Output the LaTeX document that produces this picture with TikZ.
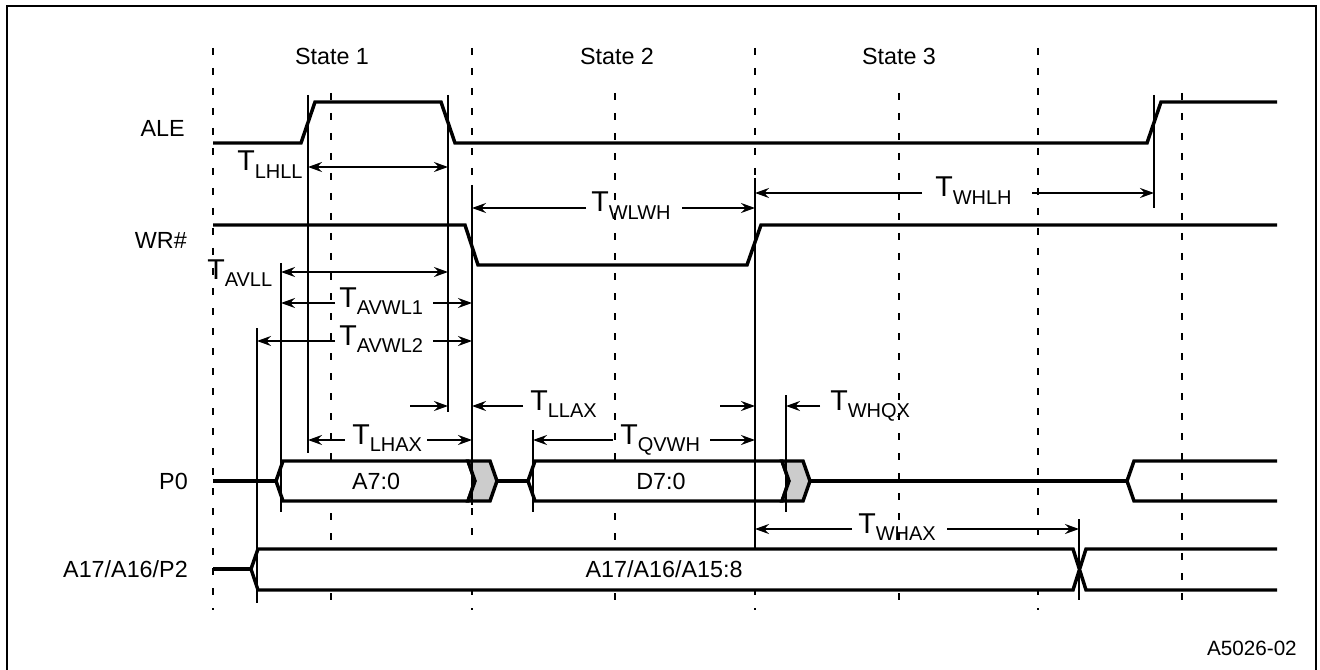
\documentclass[tikz,border=0pt]{standalone}
\usepackage{fontspec}
\setmainfont{Liberation Sans}
\usetikzlibrary{arrows.meta}
\newcommand\TimSym[1]{{\fontsize{21.5}{22}\selectfont T}\raisebox{-5.5pt}{\fontsize{15}{15}\selectfont #1}}
\begin{document}
\begin{tikzpicture}[x=0.75pt,y=-0.75pt,
  >={Stealth[length=10.5pt,width=7.5pt,inset=3.5pt]},
  frame/.style={line width=1.8pt},
  grid/.style={line width=1.3pt,dash pattern=on 5pt off 10pt},
  sig/.style={line width=2.6pt,line join=miter},
  bus/.style={line width=2.6pt,line join=miter,fill=white},
  hold/.style={line width=2.6pt,line join=miter,fill=black!20},
  tick/.style={line width=1.25pt},
  dim/.style={line width=1.25pt},
  lbl/.style={inner sep=0pt,anchor=base,font=\fontsize{17.5}{18}\selectfont},
  signame/.style={lbl,anchor=base east},
  tlab/.style={inner sep=0pt,anchor=base west},
]
\useasboundingbox (0,0) rectangle (1320,670);
% frame (open at the bottom)
\draw[frame] (7,690) -- (7,6) -- (1316,6) -- (1316,690);
% grid
\foreach \x in {213,472,755,1038} \draw[grid] (\x,48) -- (\x,610);
\foreach \x in {331,615,899,1182} \draw[grid] (\x,93) -- (\x,610);
% state labels
\node[lbl] (s1) at (332,65) {State 1};
\node[lbl] (s2) at (617,65) {State 2};
\node[lbl] (s3) at (899,65) {State 3};
% signal names
\node[signame] (ale) at (185,137) {ALE};
\node[signame] (wr) at (187,249) {WR\#};
\node[signame] (p0) at (188,489) {P0};
\node[signame] (a17) at (188,577) {A17/A16/P2};
% P0 bus
\draw[sig] (213,481) -- (276,481);
\draw[bus] (276,481) -- (283,461) -- (468,461) -- (475,481) -- (468,501) -- (283,501) -- cycle;
\draw[hold] (468,461) -- (490,461) -- (497,481) -- (490,501) -- (468,501) -- (475,481) -- cycle;
\draw[sig] (497,481) -- (528,481);
\draw[bus] (528,481) -- (535,461) -- (782,461) -- (789,481) -- (782,501) -- (535,501) -- cycle;
\draw[hold] (782,461) -- (803,461) -- (810,481) -- (803,501) -- (782,501) -- (789,481) -- cycle;
\draw[sig] (810,481) -- (1127,481);
\draw[sig] (1277,461) -- (1134,461) -- (1127,481) -- (1134,501) -- (1277,501);
% A17 bus
\draw[sig] (213,569) -- (252,569);
\fill[white] (251,569) -- (258,549) -- (1073,549) -- (1079.5,569.5) -- (1073,590) -- (258,590) -- cycle;
\draw[sig] (1277,590) -- (1086,590) -- (1073,549) -- (258,549) -- (251,569) -- (258,590) -- (1073,590) -- (1086,549) -- (1277,549);
% data labels
\node[lbl] (a70) at (376,489) {A7:0};
\node[lbl] (d70) at (661,489) {D7:0};
\node[lbl] (a15) at (664,577) {A17/A16/A15:8};
% timing reference x positions
\coordinate (vA) at (308,0);
\coordinate (vB) at (448,0);
\coordinate (vC) at (472,0);
\coordinate (vD) at (281,0);
\coordinate (vE) at (257,0);
\coordinate (vF) at (533,0);
\coordinate (vG) at (755,0);
\coordinate (vH) at (786,0);
\coordinate (vI) at (1079,0);
\coordinate (vJ) at (1154,0);
% ticks
\draw[tick] (vA |- 0,95) -- (vA |- 0,453);
\draw[tick] (vB |- 0,95) -- (vB |- 0,412);
\draw[tick] (vC |- 0,185) -- (vC |- 0,505);
\draw[tick] (vD |- 0,263) -- (vD |- 0,512);
\draw[tick] (vE |- 0,328) -- (vE |- 0,603);
\draw[tick] (vF |- 0,430) -- (vF |- 0,512);
\draw[tick] (vG |- 0,178) -- (vG |- 0,548);
\draw[tick] (vH |- 0,395) -- (vH |- 0,512);
\draw[tick] (vI |- 0,519) -- (vI |- 0,600);
\draw[tick] (vJ |- 0,95) -- (vJ |- 0,208);
% ALE and WR#
\draw[sig] (213,143) -- (301,143) -- (315,102) -- (441,102) -- (455,143) -- (1147,143) -- (1161,102) -- (1277,102);
\draw[sig] (213,225) -- (465,225) -- (478,265) -- (747,265) -- (761,225) -- (1277,225);
% dimensions
\draw[dim,<->] (vA |- 0,167) -- (vB |- 0,167);
\node[tlab] (tlhll) at (237,171) {\TimSym{LHLL}};
\draw[dim,->] (586,208) -- (vC |- 0,208);
\draw[dim,->] (682,208) -- (vG |- 0,208);
\node[tlab] (twlwh) at (591,212) {\TimSym{WLWH}};
\draw[dim,->] (922,193) -- (vG |- 0,193);
\draw[dim,->] (1032,193) -- (vJ |- 0,193);
\node[tlab] (twhlh) at (935,197) {\TimSym{WHLH}};
\draw[dim,<->] (vD |- 0,272) -- (vB |- 0,272);
\node[tlab] (tavll) at (207,279) {\TimSym{AVLL}};
\draw[dim,->] (335,303) -- (vD |- 0,303);
\draw[dim,->] (433,303) -- (vC |- 0,303);
\node[tlab] (tavwl1) at (339,307) {\TimSym{AVWL1}};
\draw[dim,->] (335,341) -- (vE |- 0,341);
\draw[dim,->] (433,341) -- (vC |- 0,341);
\node[tlab] (tavwl2) at (339,345) {\TimSym{AVWL2}};
\draw[dim,->] (410,406) -- (vB |- 0,406);
\draw[dim,->] (523,406) -- (vC |- 0,406);
\node[tlab] (tllax) at (530,410) {\TimSym{LLAX}};
\draw[dim,->] (720,406) -- (vG |- 0,406);
\draw[dim,->] (820,406) -- (vH |- 0,406);
\node[tlab] (twhqx) at (830,410) {\TimSym{WHQX}};
\draw[dim,->] (345,440) -- (vA |- 0,440);
\draw[dim,->] (427,440) -- (vC |- 0,440);
\node[tlab] (tlhax) at (352,444) {\TimSym{LHAX}};
\draw[dim,->] (613,440) -- (vF |- 0,440);
\draw[dim,->] (710,440) -- (vG |- 0,440);
\node[tlab] (tqvwh) at (620,444) {\TimSym{QVWH}};
\draw[dim,->] (852,529) -- (vG |- 0,529);
\draw[dim,->] (947,529) -- (vI |- 0,529);
\node[tlab] (twhax) at (858,533) {\TimSym{WHAX}};
% figure id
\node[inner sep=0pt,anchor=base east,font=\fontsize{15.5}{16}\selectfont] (fig) at (1297,655) {A5026-02};
\end{tikzpicture}
\end{document}
